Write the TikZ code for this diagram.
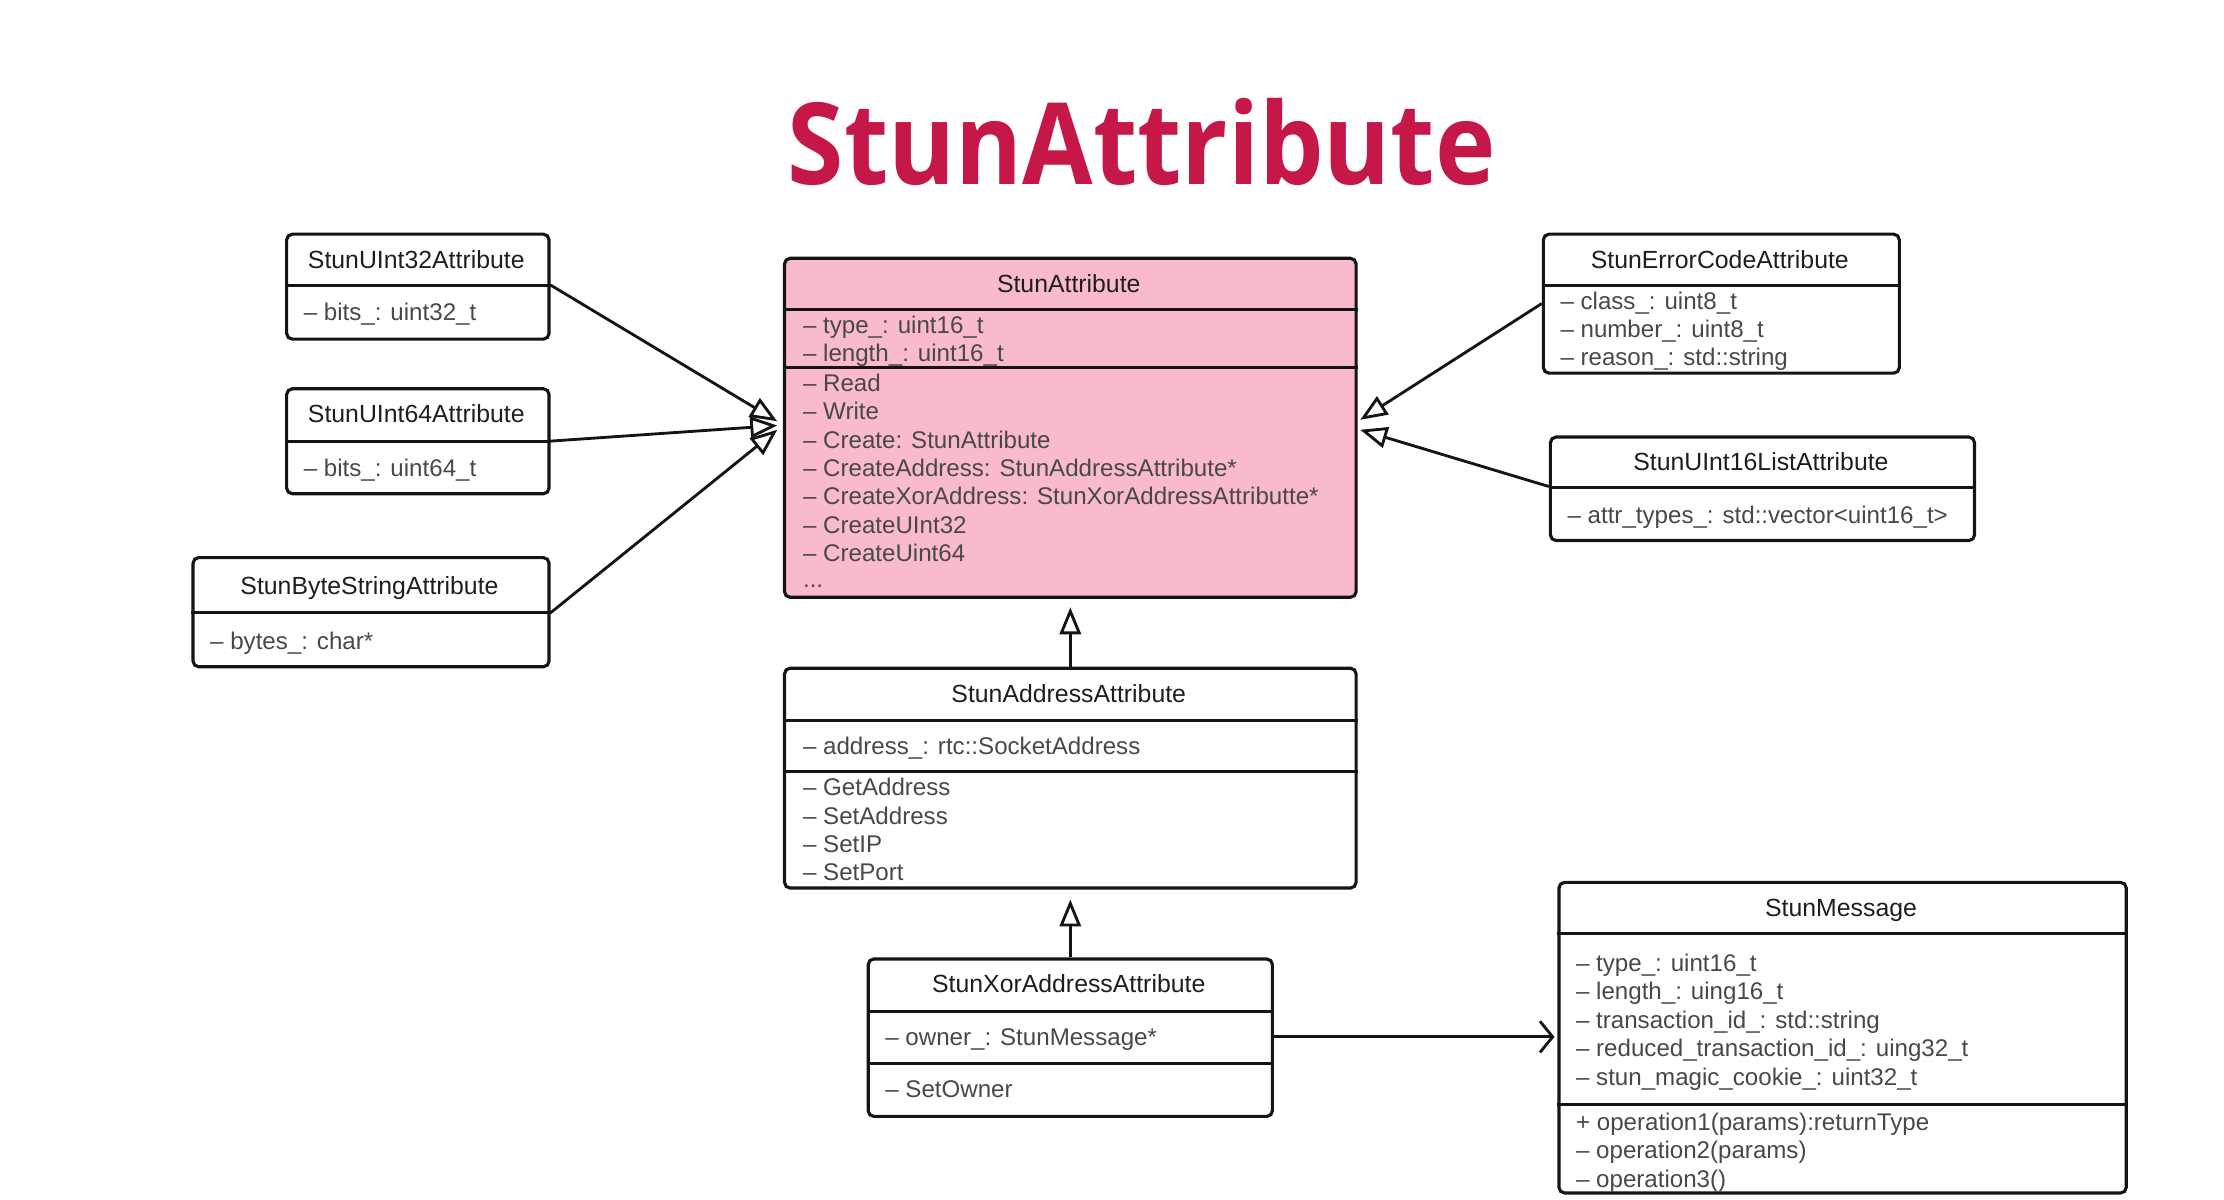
\documentclass[tikz,border=0pt]{standalone}
\usepackage{fontspec}
\setmainfont{Liberation Sans}
\newfontfamily\titlefont{Open Sans}[FakeStretch=0.9]
\usetikzlibrary{arrows.meta}
\definecolor{crim}{RGB}{198,24,72}
\definecolor{pinkfill}{RGB}{249,187,203}
\definecolor{memtxt}{RGB}{72,72,72}
\definecolor{hdtxt}{RGB}{30,30,30}
\definecolor{linec}{RGB}{20,20,20}
\begin{document}
\begin{tikzpicture}[x=1pt,y=-1pt,
  box/.style={draw=linec, line width=2.2pt, rounded corners=4pt, anchor=north west, inner sep=0pt},
  hd/.style={anchor=center, inner sep=0pt, text height=12pt, text depth=0pt, font=\fontsize{17.5}{20}\selectfont, text=hdtxt},
  mem/.style={anchor=west, inner sep=0pt, text height=12pt, text depth=0pt, font=\fontsize{17}{20}\selectfont, text=memtxt},
  sep/.style={draw=linec, line width=2.2pt},
  inh/.style={draw=linec, line width=2pt, -{Triangle[open, length=19pt, width=15pt, line width=2pt]}},
  assoc/.style={draw=linec, line width=2pt, -{Straight Barb[length=9pt, width=22pt, line width=2pt]}}
]
\useasboundingbox (0,0) rectangle (1568,846);

% title
\node[anchor=base, inner sep=0pt, font=\titlefont\bfseries\fontsize{80}{90}\selectfont, text=crim] (title) at (805,130) {StunAttribute};

% StunUInt32Attribute
\node[box, minimum width=185pt, minimum height=74pt] (u32) at (201,164) {};
\draw[sep] (u32.west |- 0,201) -- (u32.east |- 0,201);
\node[hd] (u32t) at (293.5,183) {StunUInt32Attribute};
\node[mem] (u32m) at (214,220) {– bits\_: uint32\_t};

% StunUInt64Attribute
\node[box, minimum width=185pt, minimum height=74pt] (u64) at (201,273) {};
\draw[sep] (u64.west |- 0,311) -- (u64.east |- 0,311);
\node[hd] (u64t) at (293.5,292) {StunUInt64Attribute};
\node[mem] (u64m) at (214,330) {– bits\_: uint64\_t};

% StunByteStringAttribute
\node[box, minimum width=251pt, minimum height=77pt] (bs) at (135,392) {};
\draw[sep] (bs.west |- 0,432) -- (bs.east |- 0,432);
\node[hd] (bst) at (260.5,413) {StunByteStringAttribute};
\node[mem] (bsm) at (148,452) {– bytes\_: char*};

% StunAttribute
\node[box, fill=pinkfill, minimum width=403pt, minimum height=239pt] (sa) at (552,181) {};
\draw[sep] (sa.west |- 0,218) -- (sa.east |- 0,218);
\draw[sep] (sa.west |- 0,259) -- (sa.east |- 0,259);
\node[hd] (sat) at (753.5,200) {StunAttribute};
\node[mem] (sa1) at (566,229) {– type\_: uint16\_t};
\node[mem] (sa2) at (566,249) {– length\_: uint16\_t};
\node[mem] (sa3) at (566,270) {– Read};
\node[mem] (sa4) at (566,290) {– Write};
\node[mem] (sa5) at (566,310) {– Create: StunAttribute};
\node[mem] (sa6) at (566,330) {– CreateAddress: StunAddressAttribute*};
\node[mem] (sa7) at (566,350) {– CreateXorAddress: StunXorAddressAttributte*};
\node[mem] (sa8) at (566,370) {– CreateUInt32};
\node[mem] (sa9) at (566,390) {– CreateUint64};
\node[mem] (sa10) at (566,408) {...};

% StunErrorCodeAttribute
\node[box, minimum width=251pt, minimum height=98pt] (ec) at (1087,164) {};
\draw[sep] (ec.west |- 0,201) -- (ec.east |- 0,201);
\node[hd] (ect) at (1212.5,183) {StunErrorCodeAttribute};
\node[mem] (ec1) at (1100,212) {– class\_: uint8\_t};
\node[mem] (ec2) at (1100,232) {– number\_: uint8\_t};
\node[mem] (ec3) at (1100,252) {– reason\_: std::string};

% StunUInt16ListAttribute
\node[box, minimum width=299pt, minimum height=73pt] (ul) at (1092,307) {};
\draw[sep] (ul.west |- 0,344) -- (ul.east |- 0,344);
\node[hd] (ult) at (1241.5,326) {StunUInt16ListAttribute};
\node[mem] (ulm) at (1105,363) {– attr\_types\_: std::vector<uint16\_t>};

% StunAddressAttribute
\node[box, minimum width=403pt, minimum height=155pt] (ad) at (552,470) {};
\draw[sep] (ad.west |- 0,508) -- (ad.east |- 0,508);
\node[hd] (adt) at (753.5,489) {StunAddressAttribute};
\node[mem] (ad1) at (566,526) {– address\_: rtc::SocketAddress};
\draw[sep] (ad.west |- 0,544) -- (ad.east |- 0,544);
\node[mem] (ad2) at (566,555) {– GetAddress};
\node[mem] (ad3) at (566,575) {– SetAddress};
\node[mem] (ad4) at (566,595) {– SetIP};
\node[mem] (ad5) at (566,615) {– SetPort};

% StunXorAddressAttribute
\node[box, minimum width=285pt, minimum height=111pt] (xr) at (611,675) {};
\draw[sep] (xr.west |- 0,713) -- (xr.east |- 0,713);
\draw[sep] (xr.west |- 0,750) -- (xr.east |- 0,750);
\node[hd] (xrt) at (753.5,694) {StunXorAddressAttribute};
\node[mem] (xr1) at (624,731) {– owner\_: StunMessage*};
\node[mem] (xr2) at (624,768) {– SetOwner};

% StunMessage
\node[box, minimum width=400pt, minimum height=219pt] (sm) at (1098,621) {};
\draw[sep] (sm.west |- 0,658) -- (sm.east |- 0,658);
\draw[sep] (sm.west |- 0,779) -- (sm.east |- 0,779);
\node[hd] (smt) at (1298,640) {StunMessage};
\node[mem] (sm1) at (1111,679) {– type\_: uint16\_t};
\node[mem] (sm2) at (1111,699) {– length\_: uing16\_t};
\node[mem] (sm3) at (1111,719) {– transaction\_id\_: std::string};
\node[mem] (sm4) at (1111,739) {– reduced\_transaction\_id\_: uing32\_t};
\node[mem] (sm5) at (1111,759) {– stun\_magic\_cookie\_: uint32\_t};
\node[mem] (sm6) at (1111,791) {+ operation1(params):returnType};
\node[mem] (sm7) at (1111,811) {– operation2(params)};
\node[mem] (sm8) at (1111,831) {– operation3()};

% connectors
\coordinate (tL1) at (548,297);
\coordinate (tL2) at (548,300);
\coordinate (tL3) at (548,303);
\coordinate (tR1) at (959,296);
\coordinate (tR2) at (959,303);
\draw[inh] (u32.east |- 0,201) -- (tL1);
\draw[inh] (u64.east |- 0,311) -- (tL2);
\draw[inh] (bs.east |- 0,432) -- (tL3);
\draw[inh] (ec.west |- 0,214) -- (tR1);
\draw[inh] (ul.west |- 0,343) -- (tR2);
\draw[inh] (ad.north) -- ([yshift=-6pt]sa.south);
\draw[inh] (xr.north) -- ([yshift=-7pt]ad.south);
\draw[assoc] (xr.east |- 0,731) -- ([xshift=-2pt]sm.west |- 0,731);
\end{tikzpicture}
\end{document}
